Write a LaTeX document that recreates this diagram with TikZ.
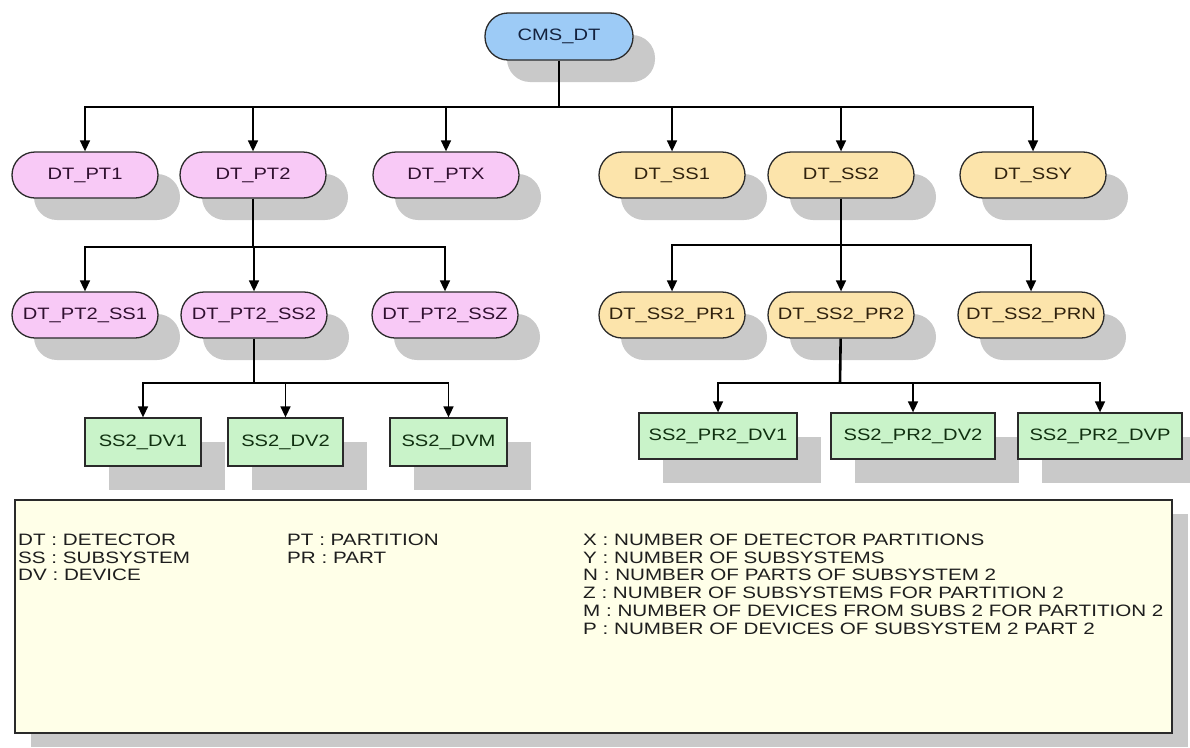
\documentclass[tikz,border=0pt]{standalone}
\usepackage{fontspec}
\newfontfamily\dfont[FakeStretch=1.22]{Liberation Sans}
\newfontfamily\lfont[FakeStretch=1.25]{Liberation Sans}
\usetikzlibrary{arrows.meta,shadows}
\definecolor{bluefill}{HTML}{9DCBF6}
\definecolor{pinkfill}{HTML}{F8C9F6}
\definecolor{yellowfill}{HTML}{FCE4AB}
\definecolor{greenfill}{HTML}{C9F3C9}
\definecolor{legfill}{HTML}{FFFFE8}
\definecolor{shadowc}{HTML}{C9C9C9}
\definecolor{bluetext}{HTML}{14223E}
\definecolor{pinktext}{HTML}{301030}
\definecolor{yellowtext}{HTML}{30220E}
\definecolor{greentext}{HTML}{103010}
\definecolor{bordc}{HTML}{2A2A2A}
\definecolor{legtextc}{HTML}{1E1E1E}
\begin{document}
\begin{tikzpicture}[x=1pt,y=-1pt,
  basefont/.style={font=\dfont\fontsize{16.5}{17.8}\selectfont},
  pill/.style={basefont, draw=bordc, line width=1.3pt, rounded corners=23pt,
    minimum width=146pt, minimum height=46pt, inner sep=0pt,
    drop shadow={shadow xshift=22pt, shadow yshift=-22pt, fill=shadowc, opacity=1}},
  bluepill/.style={pill, fill=bluefill, text=bluetext, minimum width=148pt, minimum height=47pt},
  pinkpill/.style={pill, fill=pinkfill, text=pinktext},
  yellowpill/.style={pill, fill=yellowfill, text=yellowtext},
  devbox/.style={basefont, draw=bordc, line width=1.3pt, fill=greenfill, text=greentext,
    inner sep=0pt, minimum height=47pt,
    drop shadow={shadow xshift=24pt, shadow yshift=-24pt, fill=shadowc, opacity=1}},
  legbox/.style={draw=bordc, line width=1.4pt, fill=legfill, inner sep=0pt,
    drop shadow={shadow xshift=16pt, shadow yshift=-14pt, fill=shadowc, opacity=1}},
  legtext/.style={font=\lfont\fontsize{16.5}{17.8}\selectfont, text=legtextc, align=left, inner sep=0pt, anchor=north west},
  conn/.style={draw=black, line width=1.6pt, -{Triangle[length=11pt,width=10pt]}},
  trunk/.style={draw=black, line width=2.6pt}
]
\useasboundingbox (0,0) rectangle (1190,747);
\clip (0,0) rectangle (1190,747);

% legend
\node[legbox, minimum width=1157pt, minimum height=233pt] (leg) at (593.5,616.5) {};
\node[legtext] (l1) at (18,533.5) {DT : DETECTOR\\SS : SUBSYSTEM\\DV : DEVICE};
\node[legtext] (l2) at (287,533.5) {PT : PARTITION\\PR : PART};
\node[legtext] (l3) at (583,533.5) {X : NUMBER OF DETECTOR PARTITIONS\\Y : NUMBER OF SUBSYSTEMS\\N : NUMBER OF PARTS OF SUBSYSTEM 2\\Z : NUMBER OF SUBSYSTEMS FOR PARTITION 2\\M : NUMBER OF DEVICES FROM SUBS 2 FOR PARTITION 2\\P : NUMBER OF DEVICES OF SUBSYSTEM 2 PART 2};

% nodes
\node[bluepill] (cms) at (559,36.5) {CMS\_DT};

\node[pinkpill] (pt1) at (85,175) {DT\_PT1};
\node[pinkpill] (pt2) at (253,175) {DT\_PT2};
\node[pinkpill] (ptx) at (446,175) {DT\_PTX};
\node[yellowpill] (ss1) at (672,175) {DT\_SS1};
\node[yellowpill] (ss2) at (841,175) {DT\_SS2};
\node[yellowpill] (ssy) at (1033,175) {DT\_SSY};

\node[pinkpill] (pss1) at (85,315) {DT\_PT2\_SS1};
\node[pinkpill] (pss2) at (254,315) {DT\_PT2\_SS2};
\node[pinkpill] (pssz) at (445,315) {DT\_PT2\_SSZ};
\node[yellowpill] (spr1) at (672,315) {DT\_SS2\_PR1};
\node[yellowpill] (spr2) at (841,315) {DT\_SS2\_PR2};
\node[yellowpill] (sprn) at (1031,315) {DT\_SS2\_PRN};

\node[devbox, minimum width=116pt, minimum height=48pt] (dv1) at (143,442) {SS2\_DV1};
\node[devbox, minimum width=115pt, minimum height=48pt] (dv2) at (285.5,442) {SS2\_DV2};
\node[devbox, minimum width=117pt, minimum height=48pt] (dvm) at (448.5,442) {SS2\_DVM};
\node[devbox, minimum width=158pt, minimum height=46pt] (pdv1) at (718,436) {SS2\_PR2\_DV1};
\node[devbox, minimum width=164pt, minimum height=46pt] (pdv2) at (913,436) {SS2\_PR2\_DV2};
\node[devbox, minimum width=164pt, minimum height=46pt] (pdvp) at (1100,436) {SS2\_PR2\_DVP};

% bus coordinates
\coordinate (b1) at (559,107);
\coordinate (b2l) at (253,247);
\coordinate (b2r) at (841,245);
\coordinate (b3l) at (254,383);
\coordinate (b3r) at (840,383);

% connectors
\draw[trunk] (cms) -- (b1);
\foreach \n in {pt1,pt2,ptx,ss1,ss2,ssy} \draw[conn] (b1) -| (\n);
\draw[trunk] (pt2) -- (b2l);
\foreach \n in {pss1,pss2,pssz} \draw[conn] (b2l) -| (\n);
\draw[trunk] (ss2) -- (b2r);
\foreach \n in {spr1,spr2,sprn} \draw[conn] (b2r) -| (\n);
\draw[trunk] (pss2) -- (b3l);
\foreach \n in {dv1,dv2,dvm} \draw[conn] (b3l) -| (\n);
\draw[trunk] (spr2) -- (b3r);
\foreach \n in {pdv1,pdv2,pdvp} \draw[conn] (b3r) -| (\n);
\end{tikzpicture}
\end{document}
